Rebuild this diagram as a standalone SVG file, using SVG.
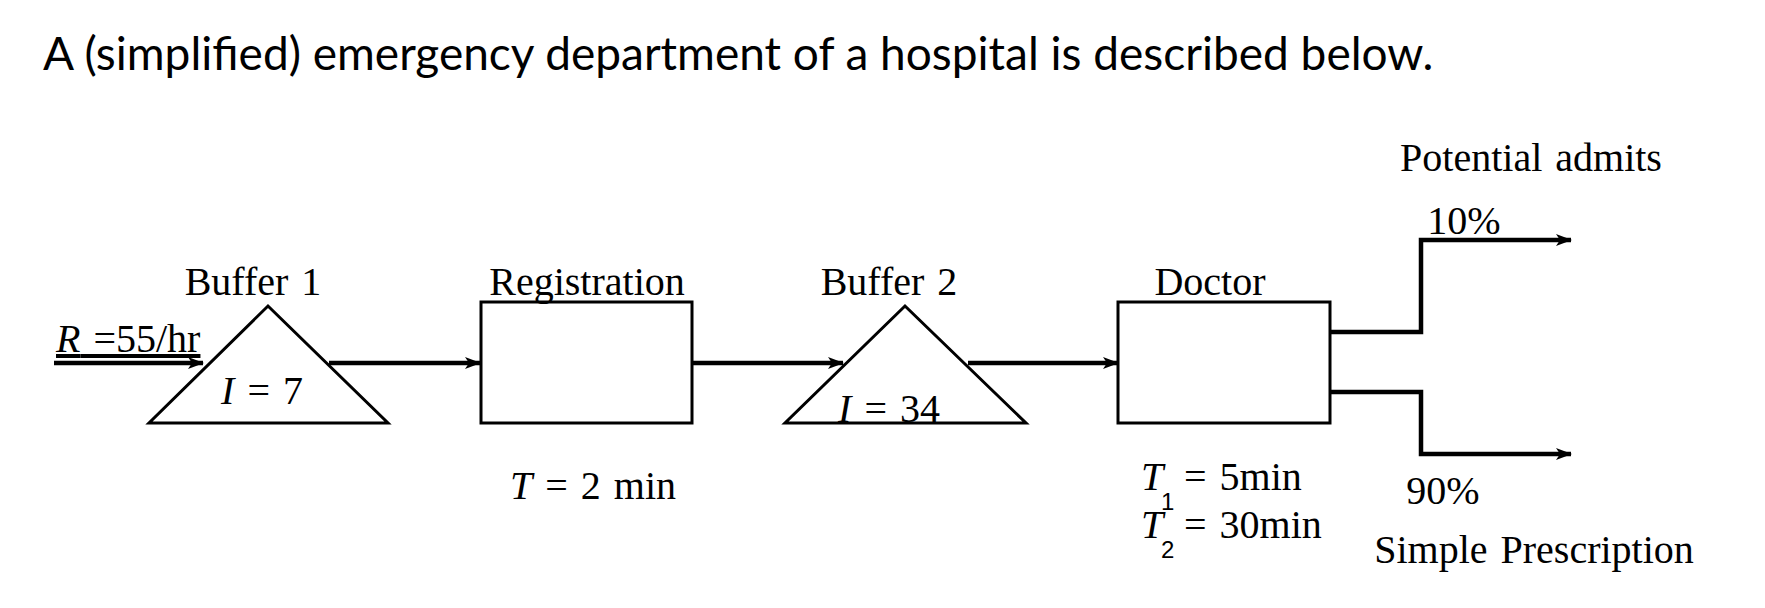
<svg xmlns="http://www.w3.org/2000/svg" width="1765" height="608" viewBox="0 0 1765 608">
<style>
.t{font-family:"Liberation Serif",serif;font-size:40px;fill:#000;word-spacing:3px}
.s{font-family:"Liberation Sans",sans-serif;font-size:24px;fill:#000}
.n{fill:none;stroke:#000;stroke-width:3}
.c{fill:none;stroke:#000;stroke-width:4.5}
</style>
<defs><marker id="a" markerWidth="16" markerHeight="12" refX="15" refY="6" orient="auto" markerUnits="userSpaceOnUse"><path d="M0,0 L16,6 L0,12 L4,6 Z" fill="#000"/></marker></defs>
<rect width="1765" height="608" fill="#fff"/>
<text x="43" y="70" font-family="Lato,sans-serif" font-size="46">A (simplified) emergency department of a hospital is described below.</text>
<g id="connectors">
<line class="c" x1="54" y1="363" x2="203" y2="363" marker-end="url(#a)"/>
<line class="c" x1="329" y1="363" x2="480" y2="363" marker-end="url(#a)"/>
<line class="c" x1="692" y1="363" x2="843" y2="363" marker-end="url(#a)"/>
<line class="c" x1="968" y1="363" x2="1118" y2="363" marker-end="url(#a)"/>
<path class="c" d="M1330,332 H1421 V240 H1571" marker-end="url(#a)"/>
<path class="c" d="M1330,392 H1421 V454 H1571" marker-end="url(#a)"/>
</g>
<g id="buffer1"><polygon class="n" points="149,423 388,423 268,306"/><text class="t" x="253" y="295" text-anchor="middle">Buffer 1</text><text class="t" x="262" y="404" text-anchor="middle"><tspan font-style="italic">I</tspan> = 7</text></g>
<text class="t" x="56" y="352"><tspan font-style="italic" text-decoration="underline">R</tspan><tspan text-decoration="underline"> =55/hr</tspan></text>
<g id="registration"><rect class="n" x="481" y="302" width="211" height="121"/><text class="t" x="587" y="295" text-anchor="middle">Registration</text><text class="t" x="593" y="499" text-anchor="middle"><tspan font-style="italic">T</tspan> = 2 min</text></g>
<g id="buffer2"><text class="t" x="889" y="422" text-anchor="middle"><tspan font-style="italic">I</tspan> = 34</text><polygon class="n" points="785,423 1026,423 905,306"/><text class="t" x="889" y="295" text-anchor="middle">Buffer 2</text></g>
<g id="doctor"><rect class="n" x="1118" y="302" width="212" height="121"/><text class="t" x="1210" y="295" text-anchor="middle">Doctor</text>
<text class="t" x="1141" y="490" font-style="italic">T</text><text class="s" x="1161" y="510">1</text><text class="t" x="1184" y="490">= 5min</text>
<text class="t" x="1141" y="538" font-style="italic">T</text><text class="s" x="1161" y="558">2</text><text class="t" x="1184" y="538">= 30min</text></g>
<text class="t" x="1531" y="171" text-anchor="middle">Potential admits</text>
<text class="t" x="1464" y="234" text-anchor="middle">10%</text>
<text class="t" x="1443" y="504" text-anchor="middle">90%</text>
<text class="t" x="1534" y="563" text-anchor="middle">Simple Prescription</text>
</svg>
